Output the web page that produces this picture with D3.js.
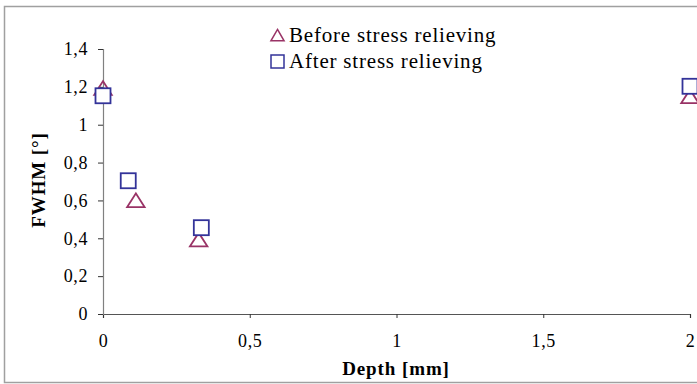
<!DOCTYPE html>
<html><head><meta charset="utf-8">
<script src="https://cdn.jsdelivr.net/npm/d3@7"></script>
<style>body{margin:0;background:#fff;} svg{display:block;}</style>
</head><body>
<svg id="c" width="697" height="384"></svg>
<script>
const depthBefore = [0, 0.112, 0.326, 2];
const fwhmBefore  = [1.19, 0.597, 0.389, 1.146];
const depthAfter  = [0, 0.086, 0.335, 2];
const fwhmAfter   = [1.153, 0.704, 0.456, 1.203];
const xTicks = [0, 0.5, 1, 1.5, 2];
const yTicks = [0, 0.2, 0.4, 0.6, 0.8, 1, 1.2, 1.4];
const seriesNames = ["Before stress relieving", "After stress relieving"];

const svg = d3.select("#c");
const font = "'Liberation Serif','Times New Roman',serif";
const fmt = d => String(d).replace(".", ",");

svg.append("rect").attr("x",4.5).attr("y",6.5).attr("width",720).attr("height",376)
  .attr("fill","#fff").attr("stroke","#a0a0a0").attr("stroke-width",1.5);

const x = d3.scaleLinear().domain([0,2]).range([103,690]);
const y = d3.scaleLinear().domain([0,1.4]).range([314,49]);

const gx = svg.append("g").attr("transform","translate(0,314)")
  .call(d3.axisBottom(x).tickValues(xTicks).tickFormat(fmt).tickSize(4).tickPadding(16));
const gy = svg.append("g").attr("transform","translate(103,0)")
  .call(d3.axisLeft(y).tickValues(yTicks).tickFormat(fmt).tickSize(5).tickPadding(10));
[gx,gy].forEach(g=>{
  g.select(".domain").attr("stroke","#555").attr("stroke-width",1.2);
  g.selectAll(".tick line").attr("stroke","#333");
  g.selectAll("text").attr("font-family",font).attr("font-size",18).attr("letter-spacing","0.6px").attr("fill","#000");
});
gy.select(".domain").attr("stroke","#808080");

svg.append("text").attr("x",396).attr("y",375).attr("text-anchor","middle")
  .attr("font-family",font).attr("font-weight","bold").attr("font-size",19).attr("letter-spacing","0.9px").text("Depth [mm]");
svg.append("text").attr("transform","translate(45,180) rotate(-90)").attr("text-anchor","middle")
  .attr("font-family",font).attr("font-weight","bold").attr("font-size",19).attr("letter-spacing","0.9px").text("FWHM [°]");

const triCol = "#993366", sqCol = "#333399";
const tri = d3.symbol().type(d3.symbolTriangle).size(120);
svg.append("g").selectAll("path").data(d3.range(depthBefore.length)).join("path")
  .attr("d", tri)
  .attr("transform", i => `translate(${x(depthBefore[i])},${y(fwhmBefore[i])+1.5}) scale(1.05,0.95)`)
  .attr("fill","none").attr("stroke",triCol).attr("stroke-width",1.8);
svg.append("g").selectAll("rect").data(d3.range(depthAfter.length)).join("rect")
  .attr("x", i => x(depthAfter[i]) - 7.5).attr("y", i => y(fwhmAfter[i]) - 7.5)
  .attr("width",15).attr("height",15)
  .attr("fill","#fff").attr("stroke",sqCol).attr("stroke-width",1.8);

// legend
const lg = svg.append("g");
lg.append("path").attr("d", d3.symbol().type(d3.symbolTriangle).size(75))
  .attr("transform","translate(277.5,37)").attr("fill","none").attr("stroke",triCol).attr("stroke-width",1.5);
lg.append("rect").attr("x",271).attr("y",55).attr("width",13).attr("height",13)
  .attr("fill","none").attr("stroke",sqCol).attr("stroke-width",1.5);
lg.selectAll("text").data(seriesNames).join("text")
  .attr("x",289).attr("y",(d,i)=>42+i*26)
  .attr("font-family",font).attr("font-size",21).attr("letter-spacing","0.8px").text(d=>d);
</script>
</body></html>
